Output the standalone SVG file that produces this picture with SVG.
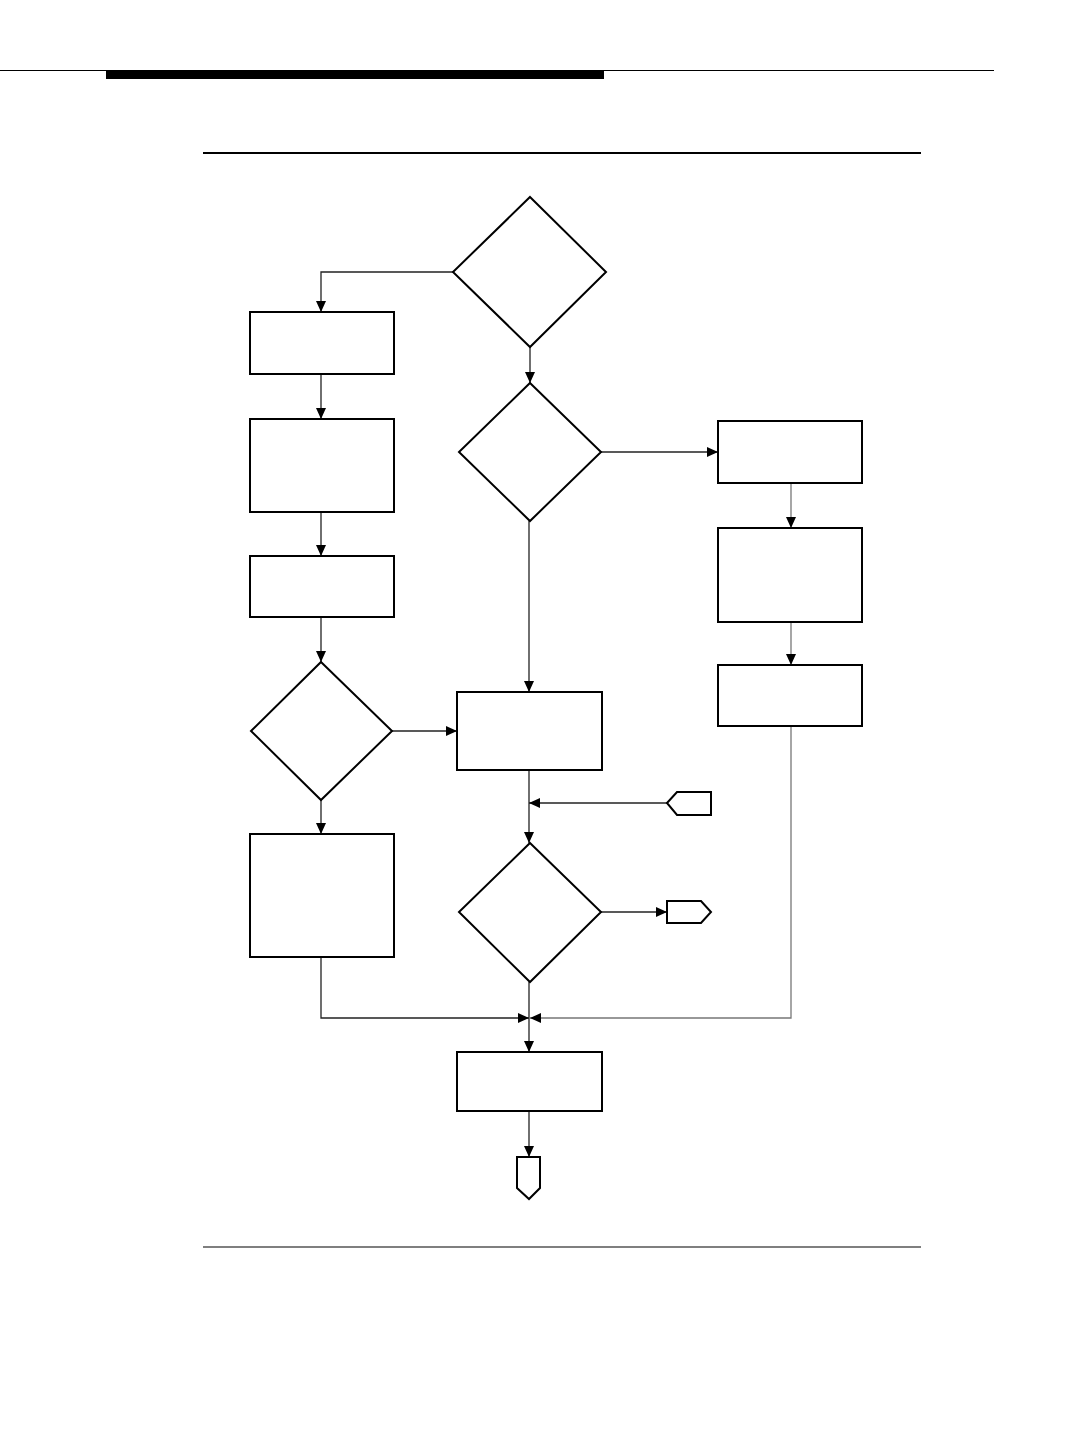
<svg xmlns="http://www.w3.org/2000/svg" width="1066" height="1440" viewBox="0 0 1066 1440">
<style>
.n{fill:#fff;stroke:#000;stroke-width:2}
.c{fill:none;stroke:#222;stroke-width:1.3}
.g{fill:none;stroke:#777;stroke-width:1.3}
</style>
<defs>
<marker id="a" viewBox="0 0 11 10" refX="11" refY="5" markerWidth="11" markerHeight="10" markerUnits="userSpaceOnUse" orient="auto">
<path d="M0,0 L11,5 L0,10 Z" fill="#000"/>
</marker>
</defs>
<rect width="1066" height="1440" fill="#fff"/>
<g id="header">
<line x1="0" y1="70.5" x2="994" y2="70.5" stroke="#000" stroke-width="1.2"/>
<rect x="106" y="70" width="498" height="9" fill="#000"/>
<line x1="203" y1="153" x2="921" y2="153" stroke="#000" stroke-width="2"/>
<line x1="203" y1="1247" x2="921" y2="1247" stroke="#000" stroke-width="1.2"/>
</g>
<g id="connectors">
<path class="c" d="M453,272 H321 V312" marker-end="url(#a)"/>
<path class="c" d="M321,374 V419" marker-end="url(#a)"/>
<path class="c" d="M321,512 V556" marker-end="url(#a)"/>
<path class="c" d="M321,617 V662" marker-end="url(#a)"/>
<path class="c" d="M392,731 H457" marker-end="url(#a)"/>
<path class="c" d="M321,800 V834" marker-end="url(#a)"/>
<path class="c" d="M321,957 V1018 H529" marker-end="url(#a)"/>
<path class="c" d="M530,347 V383" marker-end="url(#a)"/>
<path class="c" d="M601,452 H718" marker-end="url(#a)"/>
<path class="g" d="M791,483 V528" marker-end="url(#a)"/>
<path class="g" d="M791,622 V665" marker-end="url(#a)"/>
<path class="g" d="M791,726 V1018 H530" marker-end="url(#a)"/>
<path class="c" d="M529,521 V692" marker-end="url(#a)"/>
<path class="c" d="M529,770 V843" marker-end="url(#a)"/>
<path class="c" d="M667,803 H529" marker-end="url(#a)"/>
<path class="c" d="M601,912 H667" marker-end="url(#a)"/>
<path class="c" d="M529,982 V1052" marker-end="url(#a)"/>
<path class="c" d="M529,1111 V1157" marker-end="url(#a)"/>
</g>
<g id="d1"><polygon class="n" points="530,197 606,272 530,347 453,272"/></g>
<g id="b1"><rect class="n" x="250" y="312" width="144" height="62"/></g>
<g id="b2"><rect class="n" x="250" y="419" width="144" height="93"/></g>
<g id="b3"><rect class="n" x="250" y="556" width="144" height="61"/></g>
<g id="d2"><polygon class="n" points="321,662 392,731 321,800 251,731"/></g>
<g id="b4"><rect class="n" x="250" y="834" width="144" height="123"/></g>
<g id="d3"><polygon class="n" points="530,383 601,452 530,521 459,452"/></g>
<g id="r1"><rect class="n" x="718" y="421" width="144" height="62"/></g>
<g id="r2"><rect class="n" x="718" y="528" width="144" height="94"/></g>
<g id="r3"><rect class="n" x="718" y="665" width="144" height="61"/></g>
<g id="bc"><rect class="n" x="457" y="692" width="145" height="78"/></g>
<g id="op1"><polygon class="n" points="667,803 677,792 711,792 711,815 677,815"/></g>
<g id="d4"><polygon class="n" points="530,843 601,912 530,982 459,912"/></g>
<g id="op2"><polygon class="n" points="667,901 701,901 711,912 701,923 667,923"/></g>
<g id="bb"><rect class="n" x="457" y="1052" width="145" height="59"/></g>
<g id="op3"><polygon class="n" points="517,1157 540,1157 540,1188 529,1199 517,1188"/></g>
</svg>
